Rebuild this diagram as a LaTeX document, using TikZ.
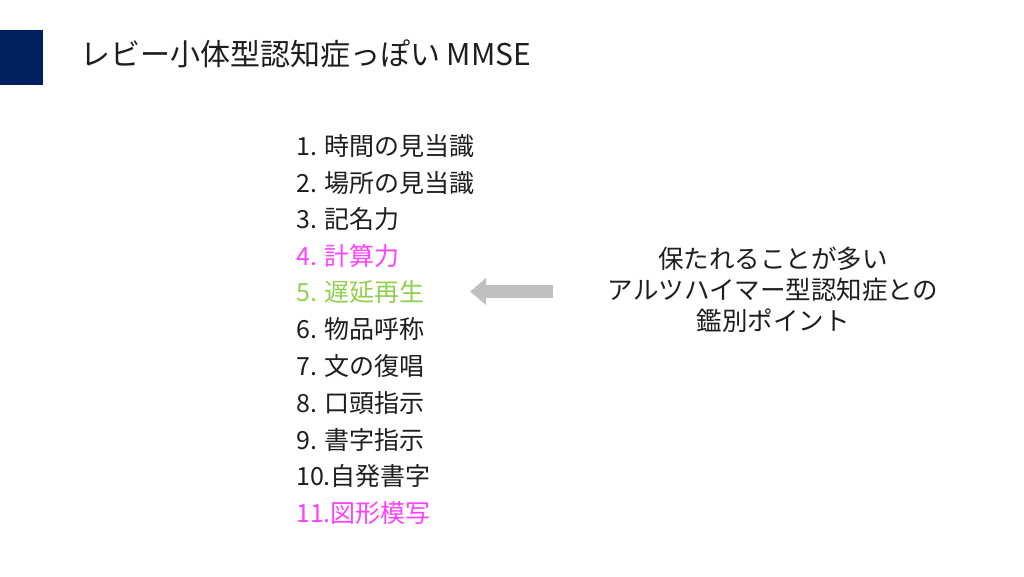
\documentclass[tikz,border=0pt]{standalone}
\usepackage{fontspec}
\setmainfont{Noto Sans CJK JP}
\usetikzlibrary{arrows.meta}
\definecolor{navy}{RGB}{0,32,96}
\definecolor{pinkish}{RGB}{255,64,255}
\definecolor{leaf}{RGB}{146,208,80}
\definecolor{ink}{RGB}{30,30,30}
\definecolor{arrgray}{RGB}{191,191,191}
\tikzset{
  item/.style={anchor=west, inner sep=0pt, text=ink, font=\fontsize{25}{29}\selectfont},
  note/.style={align=center, inner sep=0pt, text=ink, font=\fontsize{25.5}{31}\selectfont},
}
\begin{document}
\begin{tikzpicture}[x=1pt,y=-1pt]
            \useasboundingbox (0,0) rectangle (1024,576);
            \fill[navy] (0,30) rectangle (43,85);
            \node[anchor=west, inner sep=0pt, text=ink, font=\fontsize{30}{35}\selectfont] (title) at (80,54) {レビー小体型認知症っぽい MMSE};

            \node[item] (i1) at (296,146) {1. 時間の見当識};
            \node[item] (i2) at (296,183) {2. 場所の見当識};
            \node[item] (i3) at (296,219) {3. 記名力};
            \node[item, text=pinkish] (i4) at (296,256) {4. 計算力};
            \node[item, text=leaf] (i5) at (296,292) {5. 遅延再生};
            \node[item] (i6) at (296,329) {6. 物品呼称};
            \node[item] (i7) at (296,366) {7. 文の復唱};
            \node[item] (i8) at (296,403) {8. 口頭指示};
            \node[item] (i9) at (296,440) {9. 書字指示};
            \node[item] (i10) at (296,476) {10.自発書字};
            \node[item, text=pinkish] (i11) at (296,513) {11.図形模写};

            \node[note] (note) at (773,290) {保たれることが多い\\アルツハイマー型認知症との\\鑑別ポイント};

            \coordinate (arrS) at (553,291.5);
            \coordinate (arrE) at (470,291.5);
            \draw[arrgray, line width=13pt, -{Triangle[length=16pt,width=26pt]}] (arrS) -- (arrE);
\end{tikzpicture}
\end{document}
